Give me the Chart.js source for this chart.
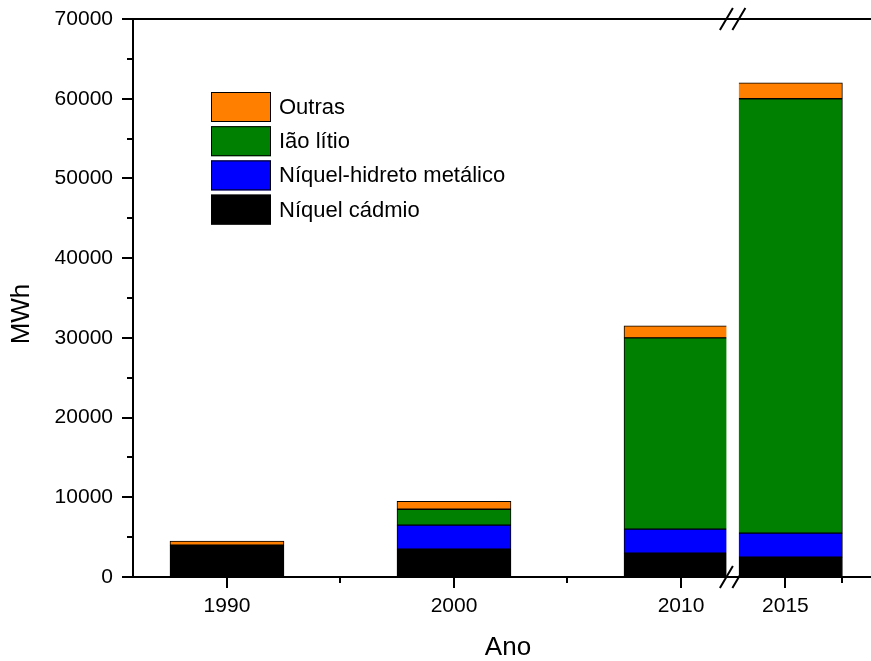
<!DOCTYPE html>
<html lang="pt">
<head>
<meta charset="UTF-8">
<title>Energia em baterias por tipo</title>
<script src="https://cdn.jsdelivr.net/npm/chart.js"></script>
<style>
  body { margin: 0; background: #fff; }
  canvas { display: block; }
</style>
</head>
<body>
<canvas id="chart" width="871" height="661"></canvas>
<script>
const anos = [1990, 2000, 2010, 2015];
const anoLabels = ['1990', '2000', '2010', '2015'];
const niquelCadmio = [4000, 3500, 3000, 2500];
const niquelHidreto = [0, 3000, 3000, 3000];
const ionLitio = [0, 2000, 24000, 54500];
const outras = [500, 1000, 1500, 2000];
const anosMenores = [1995, 2005, 2017.5];

// the x axis is cut between 2012 and 2013; the cut is drawn as a narrow gap
const quebra = { de: 2012, ate: 2012.95, gap: 0.55 };
function eixoX(ano) {
  return ano <= quebra.de ? ano : ano - (quebra.ate - quebra.de) + quebra.gap;
}

const FONTE = 'Arial, "Liberation Sans", sans-serif';

function serie(label, valores, cor) {
  return {
    label: label,
    data: anos.map((a, i) => ({ x: eixoX(a), y: valores[i] })),
    backgroundColor: cor,
    borderColor: '#000',
    borderWidth: 1,
    borderSkipped: false,
    barThickness: 114
  };
}

const eixos = {
  id: 'eixos',
  afterDatasetsDraw(chart) {
    const { ctx, chartArea: a, scales: { x } } = chart;
    // blank out the cut
    const x0 = x.getPixelForValue(quebra.de);
    const x1 = x.getPixelForValue(quebra.de + quebra.gap);
    ctx.save();
    ctx.fillStyle = '#fff';
    ctx.fillRect(x0, a.top + 1, x1 - x0, a.bottom - a.top - 2);
    ctx.restore();
  },
  afterDraw(chart) {
    const { ctx, chartArea: a, scales: { x, y } } = chart;
    ctx.save();
    ctx.strokeStyle = '#000';
    ctx.lineWidth = 2;
    ctx.beginPath();
    ctx.moveTo(a.left, a.top); ctx.lineTo(a.left, a.bottom);
    ctx.moveTo(a.left - 1, a.bottom); ctx.lineTo(a.right, a.bottom);
    ctx.moveTo(a.left - 1, a.top); ctx.lineTo(a.right, a.top);
    // y ticks, minor every 5000
    for (let v = 0; v <= 70000; v += 5000) {
      const py = Math.round(y.getPixelForValue(v));
      ctx.moveTo(a.left, py);
      ctx.lineTo(a.left - (v % 10000 ? 6 : 11), py);
    }
    anos.forEach(ano => {
      const px = Math.round(x.getPixelForValue(eixoX(ano)));
      ctx.moveTo(px, a.bottom); ctx.lineTo(px, a.bottom + 11);
    });
    anosMenores.forEach(ano => {
      const px = Math.round(x.getPixelForValue(eixoX(ano)));
      ctx.moveTo(px, a.bottom); ctx.lineTo(px, a.bottom + 6);
    });
    ctx.stroke();

    // break marks on both horizontal axes
    const xa = x.getPixelForValue(quebra.de);
    const xb = x.getPixelForValue(quebra.de + quebra.gap);
    ctx.beginPath();
    [a.top, a.bottom].forEach(py => {
      [xa, xb].forEach(cx => {
        ctx.moveTo(cx - 6.5, py + 11);
        ctx.lineTo(cx + 6.5, py - 11);
      });
    });
    ctx.stroke();

    // axis titles
    ctx.fillStyle = '#000';
    ctx.font = '26px ' + FONTE;
    ctx.textAlign = 'center';
    ctx.textBaseline = 'middle';
    ctx.fillText('Ano', 508, 648);
    ctx.translate(22, 314);
    ctx.rotate(-Math.PI / 2);
    ctx.fillText('MWh', 0, 0);
    ctx.restore();

    // legend, top series first
    ctx.save();
    ctx.font = '22px ' + FONTE;
    ctx.textAlign = 'left';
    ctx.textBaseline = 'middle';
    const sets = chart.data.datasets.slice().reverse();
    sets.forEach((ds, i) => {
      const top = 92 + i * 34.2;
      ctx.fillStyle = ds.backgroundColor;
      ctx.fillRect(211, top, 60, 30);
      ctx.strokeStyle = '#000';
      ctx.lineWidth = 1;
      ctx.strokeRect(211.5, top + 0.5, 59, 29);
      ctx.fillStyle = '#000';
      ctx.fillText(ds.label, 279, top + 16);
    });
    ctx.restore();
  }
};

new Chart(document.getElementById('chart'), {
  type: 'bar',
  data: {
    datasets: [
      serie('Níquel cádmio', niquelCadmio, '#000000'),
      serie('Níquel-hidreto metálico', niquelHidreto, '#0000FF'),
      serie('Ião lítio', ionLitio, '#008000'),
      serie('Outras', outras, '#FF8000')
    ]
  },
  options: {
    responsive: false,
    animation: false,
    layout: { padding: { top: 19, right: 0, bottom: 0, left: 0 } },
    plugins: { legend: { display: false }, tooltip: { enabled: false } },
    scales: {
      x: {
        type: 'linear',
        stacked: true,
        offset: false,
        min: 1985.86,
        max: 2018.37,
        grid: { display: false, drawTicks: false },
        border: { display: false },
        afterBuildTicks: s => { s.ticks = anos.map(a => ({ value: eixoX(a) })); },
        afterFit: s => { s.height = 84; s.paddingLeft = 0; s.paddingRight = 0; },
        ticks: {
          autoSkip: false,
          maxRotation: 0,
          padding: 17,
          color: '#000',
          font: { family: FONTE, size: 21 },
          callback: (v, i) => anoLabels[i]
        }
      },
      y: {
        stacked: true,
        min: 0,
        max: 70000,
        grid: { display: false, drawTicks: false },
        border: { display: false },
        afterFit: s => { s.width = 133; s.paddingTop = 0; s.paddingBottom = 0; },
        ticks: {
          stepSize: 10000,
          padding: 20,
          color: '#000',
          font: { family: FONTE, size: 21 },
          callback: v => String(v)
        }
      }
    }
  },
  plugins: [eixos]
});
</script>
</body>
</html>
